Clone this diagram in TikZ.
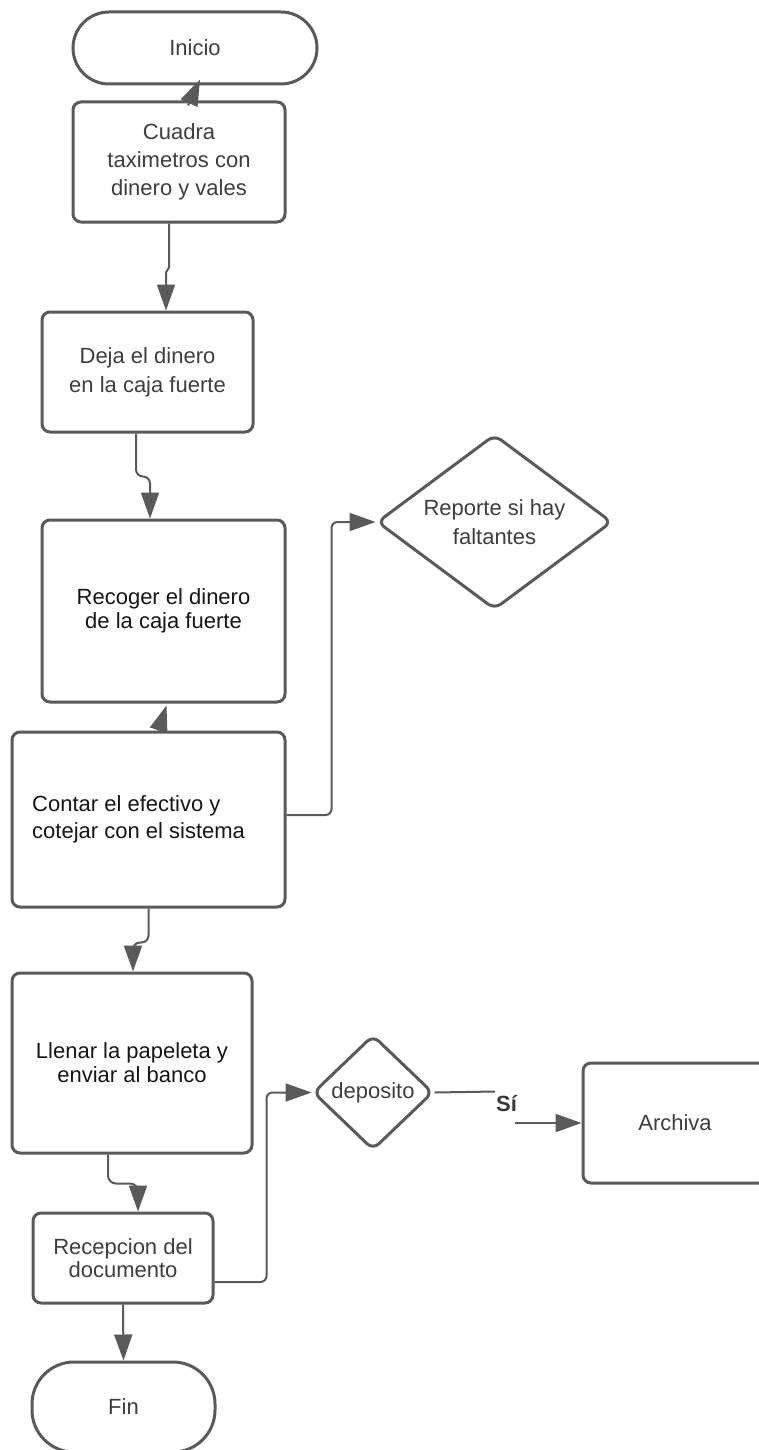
\documentclass[tikz,border=0pt]{standalone}
\usepackage{fontspec}
\setmainfont{Liberation Sans}
\usetikzlibrary{arrows.meta,shapes.geometric}
\definecolor{edge}{RGB}{90,90,90}
\definecolor{txtgray}{RGB}{62,62,62}
\definecolor{txtdark}{RGB}{22,22,22}

\begin{document}
\begin{tikzpicture}[x=1pt,y=-1pt,
  base/.style={draw=edge, line width=3pt, fill=white, text=txtgray, align=center, inner sep=0pt},
  box/.style={base, rectangle, rounded corners=8pt},
  term/.style={base, rectangle, rounded corners=#1},
  decision/.style={base, diamond, shape aspect=1.3, rounded corners=8pt},
  conn/.style={draw=edge, line width=2pt},
  arr/.style={conn, -{Triangle[length=26pt,width=18pt]}},
  fs/.style={font=\fontsize{22}{#1}\selectfont},
  dark/.style={text=txtdark}
]
\useasboundingbox[fill=white] (0,0) rectangle (758,1450);

% terminals
\node[term=36pt, fs=28, minimum width=244pt, minimum height=72pt] (inicio) at (195,48) {Inicio};
\node[term=42pt, fs=28, minimum width=183pt, minimum height=90pt] (fin) at (123.5,1407) {Fin};

% process steps
\node[box, fs=28, minimum width=212pt, minimum height=120pt] (cuadra) at (179,162)
  {Cuadra\\taximetros con\\dinero y vales};
\node[box, fs=29, minimum width=211pt, minimum height=120pt] (deja) at (147.5,372)
  {Deja el dinero\\en la caja fuerte};
\node[box, fs=24, dark, minimum width=243pt, minimum height=182pt] (recoger) at (163.5,611)
  {Recoger el dinero\\de la caja fuerte};
\node[box, minimum width=273pt, minimum height=175pt] (contar) at (148.5,819.5) {};
\node[fs=27, dark, align=left, anchor=west, inner sep=0pt] (contartxt) at (32,819)
  {Contar el efectivo y\\cotejar con el sistema};
\node[box, fs=24, dark, minimum width=240pt, minimum height=180pt] (llenar) at (132,1063)
  {Llenar la papeleta y\\enviar al banco};
\node[box, fs=23, minimum width=180pt, minimum height=90pt] (recep) at (123,1258)
  {Recepcion del\\documento};
\node[box, fs=28, minimum width=184pt, minimum height=120pt] (archiva) at (675,1123) {Archiva};

% decisions
\node[decision, fs=29, minimum width=235pt, minimum height=175pt] (reporte) at (494.5,522)
  {Reporte si hay\\faltantes};
\node[decision, shape aspect=1.05, fs=28, minimum width=120pt, minimum height=115pt] (deposito) at (373,1092.5)
  {deposito};

% connectors
\draw[arr] ([xshift=9pt,yshift=-5pt]cuadra.north) -- ([xshift=5pt,yshift=6pt]inicio.south);
\draw[arr] ([xshift=-10pt]cuadra.south) -- ++(0,44) -- ++(-3,5) -- ([xshift=18.5pt]deja.north);
\draw[arr, rounded corners=7pt] ([xshift=-11.5pt]deja.south) -- ++(0,43) -| ([xshift=-13.5pt]recoger.north);
\draw[arr] ([xshift=10pt]contar.north) -- ([xshift=3pt,yshift=-2pt]recoger.south);
\draw[arr, rounded corners=6pt] ([yshift=4.5pt]contar.east) -- ++(45,0) |- (reporte.west);
\draw[arr, rounded corners=7pt] (contar.south) -- ++(0,34) -| ([xshift=1pt]llenar.north);
\draw[arr, rounded corners=8pt] ([xshift=-24pt]llenar.south) -- ++(0,29) -| ([xshift=15pt]recep.north);
\draw[arr, rounded corners=6pt] ([yshift=-24pt]recep.east) -- ++(52,0) |- (deposito.west);
\draw[arr] (recep.south) -- (fin.north);

% "yes" branch of the deposit check
\coordinate (siA) at (495,1091.5);
\coordinate (siB) at (515,1123);
\draw[conn] (deposito.east) -- (siA);
\node[text=txtdark!85!white, font=\fontsize{22}{26}\selectfont\bfseries, inner sep=0pt] (silbl) at (506.5,1104) {Sí};
\draw[arr] (siB) -- (archiva.west);
\end{tikzpicture}
\end{document}
